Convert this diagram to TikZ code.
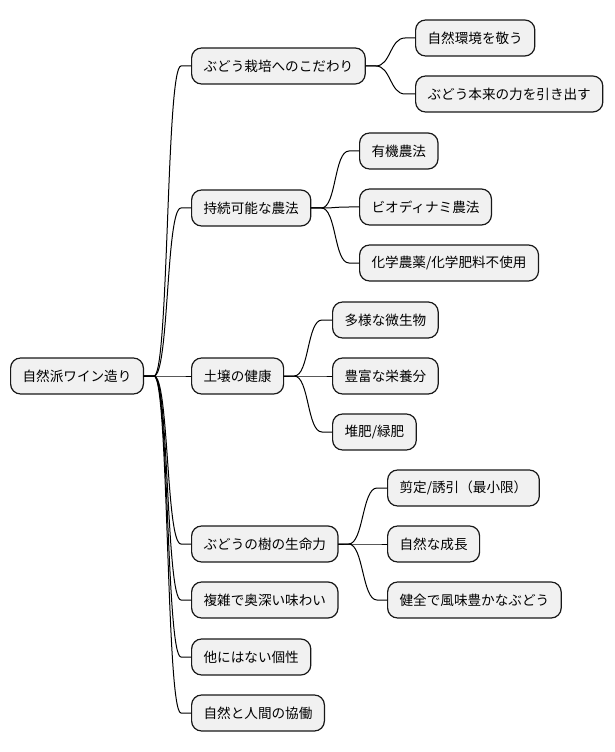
\documentclass[tikz,border=0pt]{standalone}
\usepackage{fontspec}
\setmainfont{Noto Sans CJK JP}
\definecolor{boxfill}{HTML}{F1F1F1}
\definecolor{boxline}{HTML}{181818}
\tikzset{
  topic/.style={draw=boxline, fill=boxfill, line width=0.9pt, rounded corners=7.5pt,
    inner xsep=9pt, inner ysep=0pt, minimum height=27pt, anchor=west,
    font=\fontsize{10.2pt}{12pt}\selectfont},
  branch/.style={to path={-- ++(10,0) .. controls +(15,0) and +(-15,0)
    .. ([xshift=-7.5pt]\tikztotarget) -- (\tikztotarget)}}
}
\begin{document}
\begin{tikzpicture}[x=0.75pt, y=-0.75pt, line width=0.75pt, line cap=round, line join=round]
  \useasboundingbox (0,0) rectangle (614,752);

  % Root
  \node[topic] (root) at (10, 376) {自然派ワイン造り};

  % First level
  \node[topic] (grape)  at (191, 66)  {ぶどう栽培へのこだわり};
  \node[topic] (farm)   at (191, 208) {持続可能な農法};
  \node[topic] (soil)   at (191, 376) {土壌の健康};
  \node[topic] (vine)   at (191, 544) {ぶどうの樹の生命力};
  \node[topic] (taste)  at (191, 600) {複雑で奥深い味わい};
  \node[topic] (unique) at (191, 657) {他にはない個性};
  \node[topic] (collab) at (191, 713) {自然と人間の協働};

  % Second level
  \node[topic] (grape1) at (415, 38)  {自然環境を敬う};
  \node[topic] (grape2) at (415, 94)  {ぶどう本来の力を引き出す};

  \node[topic] (farm1) at (359, 151) {有機農法};
  \node[topic] (farm2) at (359, 207) {ビオディナミ農法};
  \node[topic] (farm3) at (359, 263) {化学農薬/化学肥料不使用};

  \node[topic] (soil1) at (332, 320) {多様な微生物};
  \node[topic] (soil2) at (332, 376) {豊富な栄養分};
  \node[topic] (soil3) at (332, 432) {堆肥/緑肥};

  \node[topic] (vine1) at (387, 488) {剪定/誘引（最小限）};
  \node[topic] (vine2) at (387, 544) {自然な成長};
  \node[topic] (vine3) at (387, 600) {健全で風味豊かなぶどう};

  % Branches
  \foreach \child in {grape, farm, soil, vine, taste, unique, collab}
    \draw (root.east) to[branch] (\child.west);
  \foreach \child in {grape1, grape2}
    \draw (grape.east) to[branch] (\child.west);
  \foreach \child in {farm1, farm2, farm3}
    \draw (farm.east) to[branch] (\child.west);
  \foreach \child in {soil1, soil2, soil3}
    \draw (soil.east) to[branch] (\child.west);
  \foreach \child in {vine1, vine2, vine3}
    \draw (vine.east) to[branch] (\child.west);
\end{tikzpicture}
\end{document}
